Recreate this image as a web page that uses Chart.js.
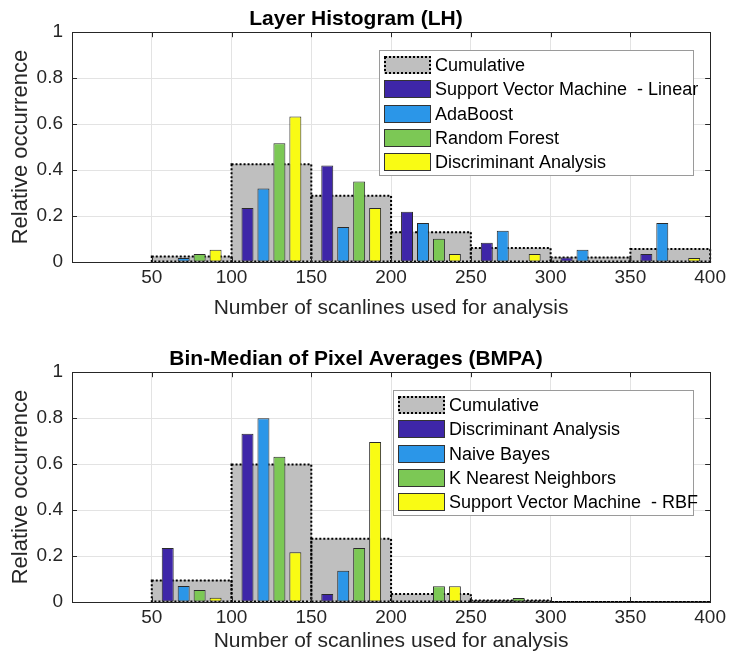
<!DOCTYPE html>
<html>
<head>
<meta charset="utf-8">
<script src="https://cdn.jsdelivr.net/npm/chart.js@4.4.1/dist/chart.umd.min.js"></script>
<style>
  html, body { margin: 0; padding: 0; background: #fff; }
  canvas { display: block; }
</style>
</head>
<body>
<canvas id="lh" width="730" height="333"></canvas>
<canvas id="bmpa" width="730" height="333"></canvas>
<script>
// bins of 50 scanlines, each bin starts at these values
const binStarts = [50, 100, 150, 200, 250, 300, 350];
const binWidth = 50;

// Layer Histogram (LH)
const lhCumulative   = [0.024, 0.425, 0.288, 0.130, 0.061, 0.020, 0.057];
const lhSvmLinear    = [0, 0.235, 0.420, 0.219, 0.084, 0.020, 0.035];
const lhAdaBoost     = [0.017, 0.320, 0.152, 0.170, 0.136, 0.053, 0.170];
const lhRandomForest = [0.035, 0.517, 0.350, 0.101, 0, 0, 0];
const lhDiscriminant = [0.053, 0.633, 0.235, 0.035, 0.035, 0, 0.017];

// Bin-Median of Pixel Averages (BMPA)
const bmpaCumulative   = [0.094, 0.598, 0.275, 0.035, 0.007, 0, 0];
const bmpaDiscriminant = [0.235, 0.732, 0.035, 0, 0, 0, 0];
const bmpaNaiveBayes   = [0.070, 0.800, 0.136, 0, 0, 0, 0];
const bmpaKnn          = [0.052, 0.632, 0.235, 0.068, 0.017, 0, 0];
const bmpaSvmRbf       = [0.019, 0.217, 0.696, 0.068, 0, 0, 0];

const colors = ['#3e26a8', '#2b96e8', '#7cc855', '#f9fb14'];
const FONT = '"Liberation Sans", Arial, sans-serif';
const INK = '#262626';

// dotted outline around the cumulative bars
const dottedOutline = {
  id: 'dottedOutline',
  afterDatasetDraw(chart, args) {
    if (!chart.data.datasets[args.index].outline) return;
    const ctx = chart.ctx;
    ctx.save();
    ctx.strokeStyle = '#000';
    ctx.lineWidth = 2;
    ctx.setLineDash([2, 2]);
    args.meta.data.forEach(el => {
      const p = el.getProps(['x', 'y', 'base', 'width'], true);
      ctx.strokeRect(p.x - p.width / 2, p.y, p.width, p.base - p.y);
    });
    ctx.restore();
  }
};

// box around the axes with inward tick marks, and the legend inside
const frameAndLegend = {
  id: 'frameAndLegend',
  afterDraw(chart) {
    const { ctx, chartArea: a, scales } = chart;
    ctx.save();
    ctx.strokeStyle = INK;
    ctx.lineWidth = 1;
    ctx.strokeRect(Math.round(a.left) + 0.5, Math.round(a.top) + 0.5,
      Math.round(a.right - a.left), Math.round(a.bottom - a.top));
    ctx.beginPath();
    scales.x.ticks.forEach((t, i) => {
      const px = Math.round(scales.x.getPixelForTick(i)) + 0.5;
      ctx.moveTo(px, a.bottom); ctx.lineTo(px, a.bottom - 5);
      ctx.moveTo(px, a.top); ctx.lineTo(px, a.top + 5);
    });
    scales.y.ticks.forEach((t, i) => {
      const py = Math.round(scales.y.getPixelForTick(i)) + 0.5;
      ctx.moveTo(a.left, py); ctx.lineTo(a.left + 5, py);
      ctx.moveTo(a.right, py); ctx.lineTo(a.right - 5, py);
    });
    ctx.stroke();

    // legend
    const items = chart.data.datasets;
    ctx.font = '18px ' + FONT;
    const textW = Math.max(...items.map(d => ctx.measureText(d.label).width));
    const swW = 47, swH = 18, rowH = 24.3, pad = 5;
    const boxW = Math.round(pad + swW + 4 + textW - 5);
    const boxH = 125;
    const right = Math.round(a.right) - 17;
    const top = Math.round(a.top) + 18;
    const left = right - boxW;
    ctx.fillStyle = '#fff';
    ctx.fillRect(left, top, boxW, boxH);
    ctx.strokeStyle = '#9a9a9a';
    ctx.strokeRect(left + 0.5, top + 0.5, boxW, boxH);
    ctx.textBaseline = 'middle';
    items.forEach((d, i) => {
      const cy = top + 15 + i * rowH;
      const sx = left + pad, sy = Math.round(cy - swH / 2);
      ctx.fillStyle = d.backgroundColor;
      ctx.fillRect(sx, sy, swW, swH);
      if (d.outline) {
        ctx.strokeStyle = '#000';
        ctx.lineWidth = 2;
        ctx.setLineDash([2, 2]);
        ctx.strokeRect(sx + 1, sy + 1, swW - 2, swH - 2);
        ctx.setLineDash([]);
      } else {
        ctx.strokeStyle = '#333';
        ctx.lineWidth = 1;
        ctx.strokeRect(sx + 0.5, sy + 0.5, swW - 1, swH - 1);
      }
      ctx.fillStyle = '#000';
      ctx.fillText(d.label, sx + swW + 4, cy + 1);
    });
    ctx.restore();
  }
};

function makeChart(id, title, cumulative, series, padTop, xAxisHeight) {
  const datasets = [{
    label: 'Cumulative',
    data: cumulative.map((v, i) => ({ x: binStarts[i] + binWidth / 2, y: v })),
    xAxisID: 'x2',
    backgroundColor: '#bfbfbf',
    borderWidth: 0,
    grouped: false,
    barPercentage: 1,
    categoryPercentage: 1,
    outline: true,
    order: 1
  }];
  series.forEach((s, k) => {
    datasets.push({
      label: s.label,
      data: s.values.map((v, i) => ({ x: binStarts[i] + 10 * (k + 1), y: v })),
      xAxisID: 'x',
      backgroundColor: colors[k],
      borderColor: '#2a2a2a',
      borderWidth: 1,
      borderSkipped: false,
      grouped: false,
      barPercentage: 0.75,
      categoryPercentage: 1,
      order: 0
    });
  });

  new Chart(document.getElementById(id), {
    type: 'bar',
    data: { datasets },
    plugins: [dottedOutline, frameAndLegend],
    options: {
      responsive: false,
      animation: false,
      layout: { padding: { top: padTop, right: 18, left: 0, bottom: 0 } },
      plugins: {
        legend: { display: false },
        tooltip: { enabled: false },
        title: {
          display: true,
          text: title,
          color: '#000',
          font: { family: FONT, size: 21, weight: 'bold' },
          padding: { top: 7, bottom: 0 }
        }
      },
      scales: {
        x: {
          type: 'linear',
          min: 0, max: 400,
          offset: false,
          afterFit: s => { s.height = xAxisHeight; },
          ticks: {
            stepSize: 50,
            maxRotation: 0,
            autoSkip: false,
            padding: 4,
            color: INK,
            font: { family: FONT, size: 19 },
            callback: v => (v === 0 ? '' : v)
          },
          grid: { color: '#e3e3e3', drawTicks: false, offset: false },
          border: { display: false },
          title: {
            display: true,
            text: 'Number of scanlines used for analysis',
            color: INK,
            font: { family: FONT, size: 21 },
            padding: { top: 0, bottom: 12 }
          }
        },
        x2: {
          type: 'linear',
          min: 0, max: 400,
          offset: false,
          display: false,
          ticks: { stepSize: 50 }
        },
        y: {
          min: 0, max: 1,
          afterFit: s => { s.width = 72; },
          ticks: {
            stepSize: 0.2,
            padding: 9,
            color: INK,
            font: { family: FONT, size: 19 },
            callback: v => String(+v.toFixed(1))
          },
          grid: { color: '#e3e3e3', drawTicks: false },
          border: { display: false },
          title: {
            display: true,
            text: 'Relative occurrence',
            color: INK,
            font: { family: FONT, size: 22 },
            padding: { top: 8, bottom: 0 }
          }
        }
      }
    }
  });
}

makeChart('lh', 'Layer Histogram (LH)', lhCumulative, [
  { label: 'Support Vector Machine  - Linear', values: lhSvmLinear },
  { label: 'AdaBoost', values: lhAdaBoost },
  { label: 'Random Forest', values: lhRandomForest },
  { label: 'Discriminant Analysis', values: lhDiscriminant }
], 0, 71);

makeChart('bmpa', 'Bin-Median of Pixel Averages (BMPA)', bmpaCumulative, [
  { label: 'Discriminant Analysis', values: bmpaDiscriminant },
  { label: 'Naive Bayes', values: bmpaNaiveBayes },
  { label: 'K Nearest Neighbors', values: bmpaKnn },
  { label: 'Support Vector Machine  - RBF', values: bmpaSvmRbf }
], 7, 64);
</script>
</body>
</html>
